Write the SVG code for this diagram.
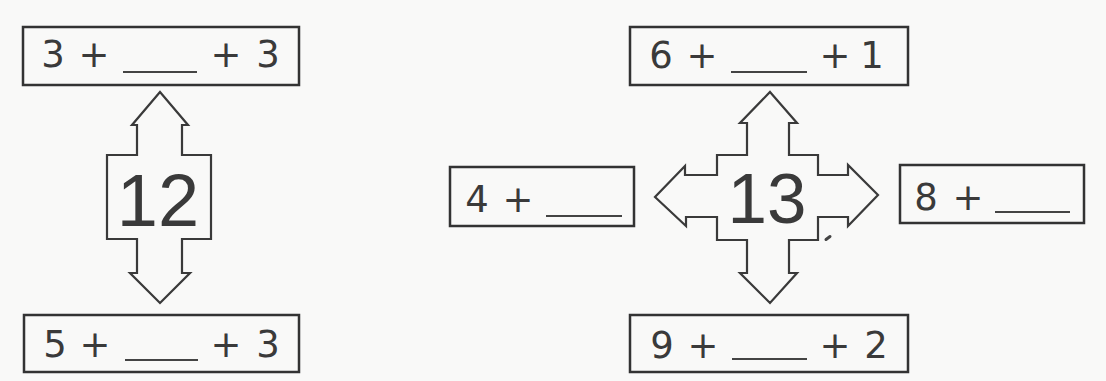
<svg xmlns="http://www.w3.org/2000/svg" width="1106" height="381" viewBox="0 0 1106 381">
<style>
.box{fill:none;stroke:#333;stroke-width:2.5}
.arr{fill:none;stroke:#3a3a3a;stroke-width:2.2;stroke-linejoin:miter}
.t{font-family:"DejaVu Sans","Liberation Sans",sans-serif;font-size:37px;fill:#3a3a3a;text-anchor:middle}
.big{font-family:"Liberation Sans","DejaVu Sans",sans-serif;fill:#3a3a3a;text-anchor:middle}
.ul{stroke:#444;stroke-width:2}
</style>
<rect width="1106" height="381" fill="#f9f9f8"/>
<g id="connectors">
<path id="arrow12" class="arr" d="M160,92 L188,125 L182,125 L182,155 L211,155 L211,239 L182,239 L182,273 L190,273 L160,303 L130,273 L137,273 L137,239 L107,239 L107,155 L137,155 L137,125 L132,125 Z"/>
<path id="arrow13" class="arr" d="M770,92 L797,123 L789,123 L789,155 L818,155 L818,175 L848,175 L848,165 L878,195 L848,226 L848,217 L818,217 L818,240 L789,240 L789,273 L797,273 L770,303 L740,273 L747,273 L747,240 L717,240 L717,217 L686,217 L686,226 L655,197 L685,166 L685,175 L717,175 L717,155 L747,155 L747,123 L740,123 Z"/>
<path d="M826,239.5 L830,236.5" stroke="#444" stroke-width="3" stroke-linecap="round"/>
</g>
<g id="n12"><text class="big" x="158" y="226" font-size="74">12</text></g>
<g id="n13"><text class="big" x="767" y="223" font-size="71">13</text></g>
<g id="tl">
<rect class="box" x="23" y="27" width="276" height="58"/>
<text class="t" x="53" y="67">3</text><text class="t" x="94" y="67">+</text>
<line class="ul" x1="123" y1="72" x2="197" y2="72"/>
<text class="t" x="226" y="67">+</text><text class="t" x="268" y="67">3</text>
</g>
<g id="bl">
<rect class="box" x="24" y="315" width="275" height="57"/>
<text class="t" x="55" y="357">5</text><text class="t" x="95" y="357">+</text>
<line class="ul" x1="125" y1="360" x2="198" y2="360"/>
<text class="t" x="226" y="357">+</text><text class="t" x="268" y="357">3</text>
</g>
<g id="tr">
<rect class="box" x="630" y="27" width="278" height="58"/>
<text class="t" x="661" y="68">6</text><text class="t" x="702" y="68">+</text>
<line class="ul" x1="731" y1="72" x2="807" y2="72"/>
<text class="t" x="835" y="68">+</text><text class="t" x="872" y="68">1</text>
</g>
<g id="br">
<rect class="box" x="630" y="315" width="278" height="57"/>
<text class="t" x="662" y="358">9</text><text class="t" x="703" y="358">+</text>
<line class="ul" x1="732" y1="359" x2="807" y2="359"/>
<text class="t" x="835" y="358">+</text><text class="t" x="876" y="358">2</text>
</g>
<g id="ml">
<rect class="box" x="450" y="167" width="184" height="59"/>
<text class="t" x="477" y="212" font-size="34">4</text><text class="t" x="518" y="212" font-size="34">+</text>
<line class="ul" x1="546" y1="216" x2="622" y2="216"/>
</g>
<g id="mr">
<rect class="box" x="900" y="165" width="184" height="58"/>
<text class="t" x="926" y="210" font-size="40">8</text><text class="t" x="968" y="210" font-size="38">+</text>
<line class="ul" x1="995" y1="212" x2="1070" y2="212"/>
</g>
</svg>
